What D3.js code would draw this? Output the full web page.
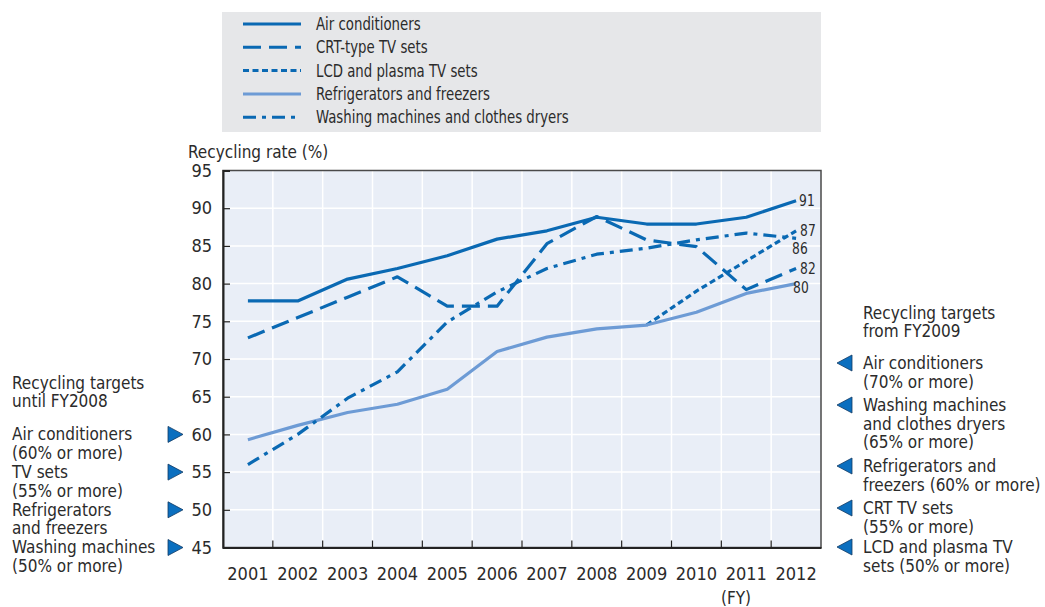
<!DOCTYPE html>
<html>
<head>
<meta charset="utf-8">
<script src="https://cdn.jsdelivr.net/npm/d3@7"></script>
<style>
  html, body { margin: 0; padding: 0; background: #fff; }
  svg text { font-family: "Liberation Sans Narrow", "DejaVu Sans Condensed", "Roboto Condensed", sans-serif; fill: #2b2b2b; }
</style>
</head>
<body>
<svg id="chart" width="1045" height="607"></svg>
<script>
// Recycling rates of home appliances (%), by fiscal year
const years = ["2001","2002","2003","2004","2005","2006","2007","2008","2009","2010","2011","2012"];
const airConditioners = [77.7, 77.7, 80.6, 82.0, 83.7, 85.9, 87.0, 88.8, 87.9, 87.9, 88.8, 91];
const crtTvSets       = [72.8, 75.5, 78.2, 80.9, 77.0, 77.0, 85.3, 88.9, 85.8, 84.9, 79.2, 82];
const lcdPlasmaTvSets = [null, null, null, null, null, null, null, null, 74.5, 79.0, 83.0, 87];
const refrigerators   = [59.3, 61.2, 62.9, 64.0, 66.0, 71.0, 72.9, 74.0, 74.5, 76.2, 78.7, 80];
const washingMachines = [56.0, 60.0, 64.8, 68.3, 74.9, 78.9, 82.0, 83.9, 84.7, 85.8, 86.7, 86];

const seriesNames = ["Air conditioners", "CRT-type TV sets", "LCD and plasma TV sets",
                     "Refrigerators and freezers", "Washing machines and clothes dryers"];
const yTicks = [45, 50, 55, 60, 65, 70, 75, 80, 85, 90, 95];

// Target markers: left side (until FY2008), right side (from FY2009)
const leftTargetLevels = [60, 55, 50, 45];
const leftTargetText = [
  ["Air conditioners", "(60% or more)"],
  ["TV sets", "(55% or more)"],
  ["Refrigerators", "and freezers"],
  ["Washing machines", "(50% or more)"]
];
const rightTargetText = [
  ["Air conditioners", "(70% or more)"],
  ["Washing machines", "and clothes dryers", "(65% or more)"],
  ["Refrigerators and", "freezers (60% or more)"],
  ["CRT TV sets", "(55% or more)"],
  ["LCD and plasma TV", "sets (50% or more)"]
];

const dark = "#0a69b3", light = "#6d9bd5";
const styles = [
  { color: dark,  dash: null },
  { color: dark,  dash: "18,8" },
  { color: dark,  dash: "6,3.5" },
  { color: light, dash: null },
  { color: dark,  dash: "13,6,4,6" }
];
const seriesData = [airConditioners, crtTvSets, lcdPlasmaTvSets, refrigerators, washingMachines];
// end-label nudges (dx, dy) so the numbers don't collide
const labelNudge = [[3, 0], [4, 0], [4, 0], [-3, 4], [-4, 10]];

const svg = d3.select("#chart");
const plot = { left: 223, right: 821, top: 170.5, bottom: 547.5 };

const x = d3.scaleBand().domain(years).range([plot.left, plot.right]);
const y = d3.scaleLinear().domain([45, 95]).range([plot.bottom, plot.top]);

// Condense a label horizontally
function narrow(sel, k) {
  sel.each(function () {
    const w = this.getComputedTextLength();
    if (w > 0) d3.select(this).attr("textLength", (w * k).toFixed(1)).attr("lengthAdjust", "spacingAndGlyphs");
  });
}

// Legend panel
const lg = svg.append("g");
lg.append("rect").attr("x", 222).attr("y", 12).attr("width", 599).attr("height", 120).attr("fill", "#e6e7e9");
seriesNames.forEach((name, i) => {
  const ly = 24 + i * 23.3;
  lg.append("line").attr("x1", 243).attr("x2", 301).attr("y1", ly).attr("y2", ly)
    .attr("stroke", styles[i].color).attr("stroke-width", 3)
    .attr("stroke-dasharray", styles[i].dash);
  lg.append("text").attr("x", 316).attr("y", ly).attr("dy", "0.35em")
    .attr("font-size", 17).text(name).call(narrow, 0.87);
});

// Plot background
svg.append("rect").attr("x", plot.left).attr("y", plot.top)
  .attr("width", plot.right - plot.left).attr("height", plot.bottom - plot.top)
  .attr("fill", "#e9eef7");

// Gridlines
const grid = svg.append("g").attr("stroke", "#fff").attr("stroke-width", 1.5);
yTicks.slice(1, -1).forEach(t => {
  grid.append("line").attr("x1", plot.left).attr("x2", plot.right).attr("y1", y(t)).attr("y2", y(t));
});
years.slice(1).forEach(yr => {
  grid.append("line").attr("x1", x(yr)).attr("x2", x(yr)).attr("y1", plot.top).attr("y2", plot.bottom);
});

// Frame
svg.append("rect").attr("x", plot.left).attr("y", plot.top)
  .attr("width", plot.right - plot.left).attr("height", plot.bottom - plot.top)
  .attr("fill", "none").attr("stroke", "#4a4a4a").attr("stroke-width", 1.5);

// Axes (ticks pointing inward)
const yAxis = d3.axisLeft(y).tickValues(yTicks).tickSize(-7).tickPadding(11);
const gy = svg.append("g").attr("transform", `translate(${plot.left},0)`).call(yAxis);
gy.select(".domain").attr("stroke", "#222").attr("stroke-width", 2);
gy.selectAll(".tick line").attr("stroke", "#222").attr("stroke-width", 1.2)
  .filter(d => d === 45 || d === 95).remove();
gy.selectAll(".tick text").attr("font-size", 18).attr("fill", "#2b2b2b")
  .style("font-family", '"Liberation Sans Narrow", "DejaVu Sans Condensed", sans-serif');

const xAxis = d3.axisBottom(x).tickSize(0).tickPadding(20);
const gx = svg.append("g").attr("transform", `translate(0,${plot.bottom})`).call(xAxis);
gx.select(".domain").attr("stroke", "#222").attr("stroke-width", 2);
gx.selectAll(".tick text").attr("font-size", 18).attr("fill", "#2b2b2b")
  .style("font-family", '"Liberation Sans Narrow", "DejaVu Sans Condensed", sans-serif');
// tick marks at category boundaries
years.slice(1).forEach(yr => {
  svg.append("line").attr("x1", x(yr)).attr("x2", x(yr))
    .attr("y1", plot.bottom).attr("y2", plot.bottom - 7)
    .attr("stroke", "#222").attr("stroke-width", 1.2);
});

svg.append("text").attr("x", 188).attr("y", 152).attr("dy", "0.35em")
  .attr("font-size", 17).text("Recycling rate (%)");
svg.append("text").attr("x", 736).attr("y", 598).attr("dy", "0.35em")
  .attr("text-anchor", "middle").attr("font-size", 17).text("(FY)");

// Series lines
const cx = yr => x(yr) + x.bandwidth() / 2;
const line = d3.line()
  .defined(d => d.v != null)
  .x(d => cx(d.year))
  .y(d => y(d.v));

seriesData.forEach((vals, i) => {
  const pts = years.map((yr, j) => ({ year: yr, v: vals[j] }));
  svg.append("path").datum(pts)
    .attr("d", line)
    .attr("fill", "none")
    .attr("stroke", styles[i].color)
    .attr("stroke-width", 3.2)
    .attr("stroke-linejoin", "round")
    .attr("stroke-dasharray", styles[i].dash);
});
// Value labels at the line ends
seriesData.forEach((vals, i) => {
  const j = vals.length - 1;
  svg.append("text")
    .attr("x", cx(years[j]) + labelNudge[i][0])
    .attr("y", y(vals[j]) + labelNudge[i][1])
    .attr("dy", "0.35em").attr("font-size", 16)
    .text(Math.round(vals[j])).call(narrow, 0.85);
});

// Target markers
const triColor = "#0b6fbf";
leftTargetLevels.forEach((lvl, i) => {
  const ty = y(lvl);
  svg.append("path")
    .attr("d", `M168,${ty - 8} L183,${ty} L168,${ty + 8} Z`)
    .attr("fill", triColor).attr("stroke", "#123a63").attr("stroke-width", 0.8);
  leftTargetText[i].forEach((t, k) => {
    svg.append("text").attr("x", 12).attr("y", ty + k * 18.5).attr("dy", "0.35em")
      .attr("font-size", 17).text(t);
  });
});
svg.append("text").attr("x", 12).attr("y", 383).attr("dy", "0.35em").attr("font-size", 17).text("Recycling targets");
svg.append("text").attr("x", 12).attr("y", 401.5).attr("dy", "0.35em").attr("font-size", 17).text("until FY2008");

svg.append("text").attr("x", 863).attr("y", 313).attr("dy", "0.35em").attr("font-size", 17).text("Recycling targets");
svg.append("text").attr("x", 863).attr("y", 331).attr("dy", "0.35em").attr("font-size", 17).text("from FY2009");

const rightRowY = [363, 405, 466, 508, 547];
rightTargetText.forEach((lines, i) => {
  const ty = rightRowY[i];
  svg.append("path")
    .attr("d", `M852,${ty - 8} L837,${ty} L852,${ty + 8} Z`)
    .attr("fill", triColor).attr("stroke", "#123a63").attr("stroke-width", 0.8);
  lines.forEach((t, k) => {
    svg.append("text").attr("x", 863).attr("y", ty + k * 18.7).attr("dy", "0.35em")
      .attr("font-size", 17).text(t);
  });
});
</script>
</body>
</html>
